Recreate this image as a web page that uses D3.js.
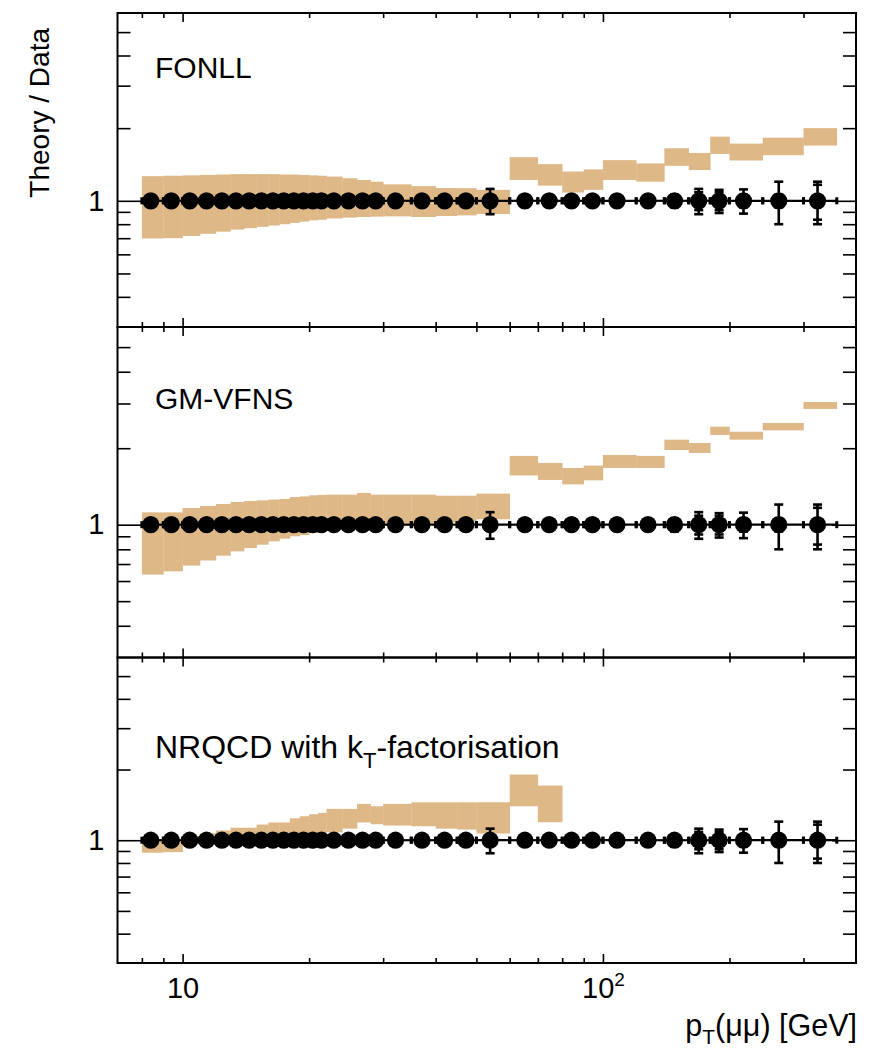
<!DOCTYPE html>
<html>
<head>
<meta charset="utf-8">
<script src="https://cdn.jsdelivr.net/npm/d3@7/dist/d3.min.js"></script>
<style>
  body { margin: 0; background: #fff; }
  svg text { font-family: "Liberation Sans", Arial, Helvetica, sans-serif; fill: #000; }
</style>
</head>
<body>
<svg id="chart" width="886" height="1053"></svg>
<script>
/* ── bins of pT(mumu) in GeV ── */
var binLo = [8, 9, 10, 11, 12, 13, 14, 15, 16, 17, 18, 19, 20, 21, 22, 24, 26, 28, 30, 35, 40, 45, 50,
             60, 70, 80, 90, 100, 120, 140, 160, 180, 200, 240, 300];
var binHi = [9, 10, 11, 12, 13, 14, 15, 16, 17, 18, 19, 20, 21, 22, 24, 26, 28, 30, 35, 40, 45, 50, 60,
             70, 80, 90, 100, 120, 140, 160, 180, 200, 240, 300, 360];
/* marker positions (mean pT in bin) */
var binMean = [8.4, 9.4, 10.4, 11.4, 12.4, 13.4, 14.4, 15.4, 16.4, 17.4, 18.4, 19.4, 20.4, 21.4, 22.9, 24.8,
               26.8, 28.8, 32.1, 37.1, 42, 47.2, 53.9, 65.2, 74.5, 84.2, 94.4, 108, 128, 148, 169, 189,
               216, 262, 324];

/* data / data = 1, with relative uncertainties */
var dataRatio = [1, 1, 1, 1, 1, 1, 1, 1, 1, 1, 1, 1, 1, 1, 1, 1, 1, 1, 1, 1, 1, 1, 1,
                 1, 1, 1, 1, 1, 1, 1, 1, 1, 1, 1, 1];
var totErr = [0.02, 0.02, 0.02, 0.02, 0.02, 0.02, 0.02, 0.02, 0.02, 0.02, 0.02, 0.02, 0.02, 0.02,
              0.03, 0.03, 0.03, 0.03, 0.03, 0.04, 0.04, 0.05, 0.12, 0.05, 0.05, 0.05, 0.05, 0.05,
              0.05, 0.06, 0.12, 0.11, 0.115, 0.2, 0.2];
var statErr = [0.01, 0.01, 0.01, 0.01, 0.01, 0.01, 0.01, 0.01, 0.01, 0.01, 0.01, 0.01, 0.01, 0.01,
               0.01, 0.01, 0.01, 0.01, 0.01, 0.01, 0.02, 0.02, 0.02, 0.02, 0.02, 0.02, 0.02, 0.03,
               0.03, 0.04, 0.085, 0.085, 0.06, 0.06, 0.165];

/* theory / data bands */
var fonllLo = [0.698, 0.70, 0.715, 0.73, 0.745, 0.76, 0.77, 0.78, 0.79, 0.80, 0.81, 0.82, 0.83, 0.835,
               0.845, 0.852, 0.857, 0.86, 0.862, 0.857, 0.865, 0.87, 0.882,
               1.22, 1.156, 1.082, 1.11, 1.22, 1.20, 1.396, 1.341, 1.564, 1.469, 1.545, 1.694];
var fonllHi = [1.265, 1.27, 1.275, 1.28, 1.285, 1.29, 1.29, 1.29, 1.29, 1.285, 1.285, 1.28, 1.275, 1.27,
               1.26, 1.24, 1.22, 1.20, 1.17, 1.15, 1.13, 1.128, 1.11,
               1.516, 1.419, 1.322, 1.35, 1.474, 1.428, 1.651, 1.579, 1.844, 1.726, 1.826, 2.0];

var gmvfnsLo = [0.636, 0.655, 0.69, 0.723, 0.755, 0.785, 0.809, 0.834, 0.86, 0.881, 0.90, 0.91, 0.93, 0.941,
                0.95, 0.96, 0.97, 0.98, 0.99, 1.0, 1.02, 1.03, 1.05,
                1.563, 1.5, 1.441, 1.494, 1.672, 1.672, 1.968, 1.916, 2.255, 2.161, 2.351, 2.855];
var gmvfnsHi = [1.118, 1.118, 1.163, 1.185, 1.206, 1.228, 1.24, 1.247, 1.255, 1.262, 1.285, 1.292, 1.305, 1.31,
                1.313, 1.313, 1.333, 1.313, 1.313, 1.313, 1.30, 1.30, 1.325,
                1.865, 1.75, 1.672, 1.708, 1.881, 1.865, 2.161, 2.097, 2.431, 2.323, 2.514, 3.041];

/* NRQCD prediction only up to 80 GeV */
var nrqcdLo = [0.885, 0.89, 0.97, 0.98, 0.99, 1.0, 1.0, 1.0, 1.01, 1.02, 1.03, 1.03, 1.04, 1.05,
               1.08, 1.12, 1.19, 1.17, 1.155, 1.147, 1.12, 1.11, 1.068, 1.395, 1.193];
var nrqcdHi = [1.0, 1.0, 1.04, 1.07, 1.10, 1.13, 1.13, 1.166, 1.19, 1.19, 1.24, 1.265, 1.29, 1.308,
               1.36, 1.36, 1.428, 1.395, 1.428, 1.45, 1.45, 1.45, 1.451, 1.904, 1.71];

var panelNames = ['FONLL', 'GM-VFNS', 'NRQCD with k'];

/* tick values */
var xMajorTicks = [10, 100];
var xMinorTicks = [8, 9, 20, 30, 40, 50, 60, 70, 80, 90, 200, 300];
var yMajorTicks = [1];
var yMinorTicks = [0.4, 0.5, 0.6, 0.7, 0.8, 0.9, 2, 3, 4, 5];

/* ── layout ── */
var frameLeft = 117.5, frameRight = 856;
var panelBox = [
  { top: 13,    bottom: 327,   labelY: 78,  labelSize: 30 },
  { top: 327,   bottom: 657.5, labelY: 409, labelSize: 30 },
  { top: 657.5, bottom: 963,   labelY: 758, labelSize: 32 }
];
var bandColor = '#deb887';

var svg = d3.select('#chart');

var x = d3.scaleLog().domain([7, 400]).range([frameLeft, frameRight]);

var bins = binLo.map(function (lo, i) {
  return { lo: lo, hi: binHi[i], mean: binMean[i], val: dataRatio[i], tot: totErr[i], stat: statErr[i] };
});

var theory = [
  { lo: fonllLo, hi: fonllHi },
  { lo: gmvfnsLo, hi: gmvfnsHi },
  { lo: nrqcdLo, hi: nrqcdHi }
];

function noLabels() { return ''; }

panelBox.forEach(function (pb, p) {
  var y = d3.scaleLog().domain([0.3, 6]).range([pb.bottom, pb.top]);
  var g = svg.append('g').attr('class', 'panel');

  /* theory band */
  var band = theory[p].lo.map(function (lo, i) {
    return { lo: lo, hi: theory[p].hi[i], xlo: binLo[i], xhi: binHi[i] };
  });
  g.selectAll('rect.band')
    .data(band)
    .join('rect')
    .attr('class', 'band')
    .attr('x', function (d) { return x(d.xlo); })
    .attr('width', function (d) { return x(d.xhi) - x(d.xlo) + 0.3; })
    .attr('y', function (d) { return y(d.hi); })
    .attr('height', function (d) { return y(d.lo) - y(d.hi); })
    .attr('fill', bandColor);

  /* axes: ticks pointing inward on all four sides */
  var bottomY = pb.bottom, topY = pb.top;
  g.append('g').attr('transform', 'translate(0,' + bottomY + ')')
    .call(d3.axisBottom(x).tickValues(xMinorTicks).tickSize(-5).tickFormat(noLabels));
  g.append('g').attr('transform', 'translate(0,' + bottomY + ')')
    .call(d3.axisBottom(x).tickValues(xMajorTicks).tickSize(-9).tickFormat(noLabels));
  g.append('g').attr('transform', 'translate(0,' + topY + ')')
    .call(d3.axisTop(x).tickValues(xMinorTicks).tickSize(-5).tickFormat(noLabels));
  g.append('g').attr('transform', 'translate(0,' + topY + ')')
    .call(d3.axisTop(x).tickValues(xMajorTicks).tickSize(-9).tickFormat(noLabels));

  g.append('g').attr('transform', 'translate(' + frameLeft + ',0)')
    .call(d3.axisLeft(y).tickValues(yMinorTicks).tickSize(-13).tickFormat(noLabels));
  g.append('g').attr('class', 'ylab').attr('transform', 'translate(' + frameLeft + ',0)')
    .call(d3.axisLeft(y).tickValues(yMajorTicks).tickSize(-24).tickPadding(13)
      .tickFormat(function (d) { return d; }));
  g.append('g').attr('transform', 'translate(' + frameRight + ',0)')
    .call(d3.axisRight(y).tickValues(yMinorTicks).tickSize(-13).tickFormat(noLabels));
  g.append('g').attr('transform', 'translate(' + frameRight + ',0)')
    .call(d3.axisRight(y).tickValues(yMajorTicks).tickSize(-24).tickFormat(noLabels));

  g.selectAll('.domain').remove();
  g.selectAll('.tick line').attr('stroke', '#000').attr('stroke-width', 1.6);
  g.selectAll('.ylab text')
    .attr('font-size', 29)
    .attr('font-family', '"Liberation Sans", Arial, Helvetica, sans-serif')
    .attr('fill', '#000');

  /* data: horizontal bin widths */
  var y1 = function (d) { return y(d.val); };
  g.selectAll('line.xerr')
    .data(bins)
    .join('line')
    .attr('class', 'xerr')
    .attr('x1', function (d) { return x(d.lo); })
    .attr('x2', function (d) { return x(d.hi); })
    .attr('y1', y1).attr('y2', y1)
    .attr('stroke', '#000').attr('stroke-width', 2.2);

  /* end marks at bin edges */
  var edges = [];
  bins.forEach(function (d) { edges.push({ e: d.lo, val: d.val }, { e: d.hi, val: d.val }); });
  g.selectAll('rect.edge')
    .data(edges)
    .join('rect')
    .attr('class', 'edge')
    .attr('x', function (d) { return x(d.e) - 1.5; })
    .attr('y', function (d) { return y(d.val) - 3.5; })
    .attr('width', 3).attr('height', 7)
    .attr('fill', '#000');

  /* vertical error bars */
  g.selectAll('line.yerr')
    .data(bins)
    .join('line')
    .attr('class', 'yerr')
    .attr('x1', function (d) { return x(d.mean); })
    .attr('x2', function (d) { return x(d.mean); })
    .attr('y1', function (d) { return y(d.val + d.tot); })
    .attr('y2', function (d) { return y(d.val - d.tot); })
    .attr('stroke', '#000').attr('stroke-width', 2.6);

  var caps = [];
  bins.forEach(function (d) {
    caps.push({ m: d.mean, v: d.val + d.tot }, { m: d.mean, v: d.val - d.tot },
              { m: d.mean, v: d.val + d.stat }, { m: d.mean, v: d.val - d.stat });
  });
  g.selectAll('line.cap')
    .data(caps)
    .join('line')
    .attr('class', 'cap')
    .attr('x1', function (d) { return x(d.m) - 4.5; })
    .attr('x2', function (d) { return x(d.m) + 4.5; })
    .attr('y1', function (d) { return y(d.v); })
    .attr('y2', function (d) { return y(d.v); })
    .attr('stroke', '#000').attr('stroke-width', 2.6);

  /* markers */
  g.selectAll('circle.pt')
    .data(bins)
    .join('circle')
    .attr('class', 'pt')
    .attr('cx', function (d) { return x(d.mean); })
    .attr('cy', y1)
    .attr('r', 8.6)
    .attr('fill', '#000');

  /* frame */
  g.append('rect')
    .attr('x', frameLeft).attr('y', pb.top)
    .attr('width', frameRight - frameLeft).attr('height', pb.bottom - pb.top)
    .attr('fill', 'none').attr('stroke', '#000').attr('stroke-width', 2);

  /* model label */
  var lab = g.append('text')
    .attr('x', 155).attr('y', pb.labelY)
    .attr('font-size', pb.labelSize)
    .text(panelNames[p]);
  if (p === 2) {
    lab.append('tspan').attr('font-size', 22).attr('dy', 10).text('T');
    lab.append('tspan').attr('dy', -10).text('-factorisation');
  }

  /* x labels only on the lowest panel */
  if (p === 2) {
    var xl = g.append('g').attr('transform', 'translate(0,' + bottomY + ')')
      .call(d3.axisBottom(x).tickValues(xMajorTicks).tickSize(0).tickPadding(14).tickFormat(noLabels));
    xl.select('.domain').remove();
    xl.selectAll('.tick text')
      .attr('font-size', 29)
      .attr('font-family', '"Liberation Sans", Arial, Helvetica, sans-serif')
      .attr('fill', '#000')
      .each(function (d) {
        var t = d3.select(this);
        if (d === 10) {
          t.text('10');
        } else {
          t.append('tspan').text('10');
          t.append('tspan').attr('font-size', 19).attr('dy', -12).text('2');
        }
      });
  }
});

/* axis titles */
svg.append('text')
  .attr('transform', 'translate(49,28) rotate(-90)')
  .attr('text-anchor', 'end')
  .attr('font-size', 28)
  .text('Theory / Data');

var xt = svg.append('text')
  .attr('x', 857).attr('y', 1036)
  .attr('text-anchor', 'end')
  .attr('font-size', 30.5);
xt.append('tspan').text('p');
xt.append('tspan').attr('font-size', 21).attr('dy', 8).text('T');
xt.append('tspan').attr('dy', -8).text('(\u03bc\u03bc) [GeV]');
</script>
</body>
</html>
